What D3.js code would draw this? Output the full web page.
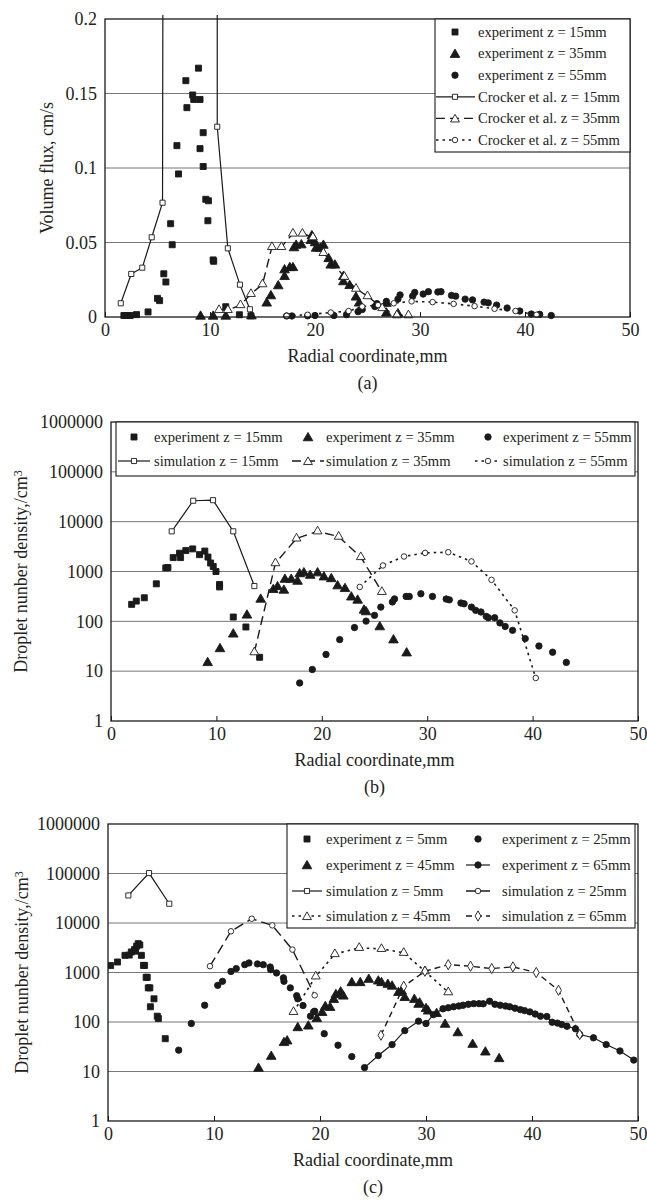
<!DOCTYPE html>
<html>
<head>
<meta charset="utf-8">
<script src="https://cdn.jsdelivr.net/npm/d3@7"></script>
<style>
body { margin: 0; background: #fff; }
svg text { font-family: "Liberation Serif", "Times New Roman", serif; fill: #222; }
</style>
</head>
<body>
<svg id="fig" width="647" height="1200"></svg>
<script>
// ---- axis values / labels
var xTicks = [0, 10, 20, 30, 40, 50];
var fluxTicks = [0, 0.05, 0.1, 0.15, 0.2];
var fluxGrid = [0.05, 0.1, 0.15];
var densityTicks = [1, 10, 100, 1000, 10000, 100000, 1000000];
var densityGrid = [10, 100, 1000, 10000, 100000];
var xTitle = "Radial coordinate,mm";
var fluxTitle = "Volume flux, cm/s";
var densityTitle = "Droplet nunber density,/cm";
var captions = ["(a)", "(b)", "(c)"];

var legendA = ["experiment z = 15mm", "experiment z = 35mm", "experiment z = 55mm",
  "Crocker et al. z = 15mm", "Crocker et al. z = 35mm", "Crocker et al. z = 55mm"];
var legendB = ["experiment z = 15mm", "experiment z = 35mm", "experiment z = 55mm",
  "simulation z = 15mm", "simulation z = 35mm", "simulation z = 55mm"];
var legendC = ["experiment z = 5mm", "experiment z = 25mm", "experiment z = 45mm", "experiment z = 65mm",
  "simulation z = 5mm", "simulation z = 25mm", "simulation z = 45mm", "simulation z = 65mm"];

// ---- (a) volume flux, [radial mm, cm/s]
var aExp15 = [[1.8,0.001],[2.1,0.001],[2.4,0.001],[3.0,0.0016],[4.1,0.0034],[5.0,0.0125],[5.2,0.011],
  [5.6,0.029],[5.8,0.0235],[6.25,0.0626],[6.4,0.0485],[6.85,0.115],[7.0,0.096],[7.7,0.1586],[7.8,0.1405],
  [8.35,0.149],[8.45,0.146],[8.9,0.167],[9.05,0.146],[9.05,0.113],[9.35,0.1237],[9.35,0.101],[9.6,0.079],
  [9.85,0.078],[9.8,0.0646],[10.3,0.0383],[10.35,0.0374],[11.5,0.0069],[12.8,0.0015],[13.9,0.0008]];
var aExp35 = [[9.1,0.0004],[10.3,0.0004],[11.5,0.0004],[13.95,0.0006],[15.4,0.0092],[15.8,0.0141],
  [16.5,0.0208],[17.1,0.027],[17.1,0.0315],[17.6,0.033],[17.9,0.033],[18.0,0.0463],[18.2,0.048],
  [18.7,0.0483],[19.6,0.0512],[19.7,0.0544],[20.0,0.0497],[20.1,0.046],[20.5,0.046],[20.8,0.048],
  [21.3,0.039],[21.5,0.0347],[21.9,0.0347],[22.7,0.027],[22.7,0.0235],[23.3,0.021],[23.9,0.0132],
  [24.2,0.0092],[26.8,0.009],[26.8,0.0025],[27.9,0.002]];
var aExp55 = [[17.3,0.0007],[17.8,0.0007],[19.3,0.0008],[20.0,0.001],[21.8,0.001],[23.0,0.0016],
  [24.1,0.0036],[24.5,0.005],[25.7,0.007],[25.9,0.009],[26.8,0.0105],[27.9,0.012],[28.1,0.0148],
  [29.3,0.014],[29.5,0.0165],[30.3,0.0154],[30.8,0.017],[31.7,0.0168],[32.0,0.017],[33.0,0.0145],
  [33.4,0.014],[34.3,0.012],[35.0,0.0115],[36.1,0.010],[36.5,0.0095],[37.3,0.008],[38.3,0.006],
  [39.5,0.004],[40.6,0.002],[41.4,0.0018],[42.5,0.001]];
var aCro15 = [[1.5,0.0092],[2.5,0.0289],[3.55,0.0331],[4.45,0.0535],[5.48,0.0767],[5.6,0.6],
  [8.1,0.9],[10.69,0.6],[10.69,0.1277],[11.7,0.0461],[12.85,0.0217],[13.8,0.0052]];
var aCro35 = [[10.86,0.0047],[11.7,0.0047],[12.9,0.008],[13.9,0.0155],[15.0,0.022],[15.9,0.047],
  [16.8,0.047],[17.9,0.056],[18.8,0.056],[19.8,0.0535],[20.8,0.043],[22.8,0.027],[23.9,0.019],
  [25.0,0.014],[26.4,0.006],[27.8,0.0012],[28.9,0.0012]];
var aCro55 = [[17.3,0.0008],[19.3,0.0015],[21.5,0.003],[23.2,0.004],[24.5,0.007],[26.0,0.008],
  [27.5,0.0092],[29.2,0.0105],[31.2,0.010],[33.2,0.0088],[35.2,0.0073],[37.1,0.0055],[39.1,0.004],
  [41.1,0.0015]];

// ---- (b) droplet number density, [radial mm, /cm3]
var bExp15 = [[1.96,219],[2.4,255],[3.16,297],[4.3,566],[5.2,1180],[5.4,1200],[5.9,1900],[6.5,2330],
  [6.6,1900],[7.1,2630],[7.75,2840],[8.4,2180],[8.9,2570],[9.2,1950],[9.45,1480],[9.7,1260],[9.96,1000],
  [10.3,550],[10.3,490],[11.6,122],[12.8,77],[14.1,19]];
var bExp35 = [[9.17,14.7],[10.34,28],[11.6,55],[12.9,132],[14.2,275],[15.4,430],[15.8,490],[16.4,417],
  [16.5,690],[17.1,690],[17.7,630],[17.9,890],[18.3,930],[18.9,830],[19.6,930],[20.2,770],[20.9,710],
  [21.5,510],[22.2,450],[22.8,305],[23.4,263],[24.0,166],[24.2,154],[25.5,77],[26.8,42],[28.05,23]];
var bExp55 = [[17.9,5.8],[19.1,10.8],[20.4,21.6],[21.7,43],[23.1,75],[24.2,101],[25.0,132],[25.6,193],
  [26.7,245],[26.9,282],[28.0,316],[28.3,316],[29.4,357],[30.5,316],[31.8,280],[32.1,270],[33.2,233],
  [33.5,225],[34.2,193],[34.6,166],[35.1,154],[35.6,126],[35.8,118],[36.4,118],[36.9,93],[37.4,79],
  [38.1,66],[39.3,45],[40.6,32],[41.9,24],[43.2,15]];
var bSim15 = [[5.76,6400],[7.8,26300],[9.68,27000],[11.6,6400],[13.6,510]];
var bSim35 = [[13.6,24],[15.6,1470],[17.6,4600],[19.6,6400],[21.6,5000],[23.7,1950],[25.7,390]];
var bSim55 = [[23.6,490],[25.8,1320],[27.8,2000],[29.8,2360],[32.0,2440],[34.2,1590],[36.1,680],
  [38.3,166],[40.3,7.3]];

// ---- (c) droplet number density, [radial mm, /cm3]
var cExp5 = [[0.25,1380],[0.9,1630],[1.6,2220],[2.0,2250],[2.2,2600],[2.5,2900],[2.6,2700],[2.7,3400],
  [2.85,3830],[3.0,3600],[3.15,2220],[3.35,1390],[3.45,1390],[3.6,800],[3.7,800],[3.8,490],[3.95,490],
  [4.0,203],[4.34,294],[4.65,131],[4.75,118],[5.4,46]];
var cExp25 = [[6.67,27],[7.86,93],[9.12,218],[10.35,550],[10.8,663],[11.6,1050],[12.1,1200],[12.9,1440],
  [13.3,1560],[14.1,1490],[14.65,1440],[15.3,1290],[15.35,1140],[15.9,980],[16.55,780],[16.6,665],
  [17.2,490],[17.8,340],[17.9,294],[18.4,215],[19.1,131],[19.4,160],[19.5,165],[20.4,58],[21.7,34],[23.0,20]];
var cExp45 = [[14.2,11.5],[15.4,20],[16.6,38],[16.9,41],[17.9,76],[18.9,82],[19.7,116],[20.2,154],
  [20.5,203],[20.95,195],[21.3,283],[21.5,355],[21.95,400],[22.2,330],[23.0,617],[23.8,617],[24.6,720],
  [25.5,665],[25.8,617],[26.4,570],[26.8,525],[27.4,390],[27.7,420],[28.0,309],[28.9,283],[29.3,225],
  [29.4,240],[30.0,185],[30.2,165],[31.0,147],[31.8,89],[33.0,60],[34.4,35],[35.6,24.5],[36.9,18]];
var cExp65 = [[24.2,12],[25.5,21],[26.8,35],[28.0,67],[29.3,104],[30.0,93],[30.7,141],[31.6,185],
  [32.1,194],[32.6,203],[33.1,210],[33.5,218],[34.0,228],[34.5,235],[35.0,235],[35.4,233],[36.0,263],
  [36.5,228],[37.0,218],[37.5,210],[37.9,203],[38.4,190],[38.9,178],[39.3,170],[39.8,160],[40.3,145],
  [40.8,131],[41.4,129],[41.9,99],[42.4,95],[42.8,89],[43.3,82],[44.1,73],[44.5,56],[45.8,48],
  [47.0,35],[48.3,26],[49.6,17]];
var cSim5 = [[1.92,36000],[3.87,102000],[5.78,24500]];
var cSim25 = [[9.62,1340],[11.6,6800],[13.56,12200],[15.5,8950],[17.4,2900],[19.5,346]];
var cSim45 = [[17.5,160],[19.6,835],[21.4,2360],[23.7,3150],[25.8,3000],[27.9,2500],[29.9,1060],[32.1,400]];
var cSim65 = [[25.75,54],[27.9,527],[29.9,1060],[32.1,1440],[34.2,1340],[36.2,1200],[38.2,1300],
  [40.4,1000],[42.5,437],[44.5,56]];

var svg = d3.select("#fig");
var ink = "#1a1a1a";

var symType = { square: d3.symbolSquare, triangle: d3.symbolTriangle, circle: d3.symbolCircle, diamond: d3.symbolDiamond };
var symSize = { square: 36, triangle: 40, circle: 32, diamond: 30 };
var openSize = { square: 26, triangle: 34, circle: 24, diamond: 30 };

function symPath(s) {
  var size = s.fill ? symSize[s.sym] : openSize[s.sym];
  return d3.symbol().type(symType[s.sym]).size(size)();
}

function drawLegendSample(g, s, cx, x1, x2, cy) {
  if (s.line) {
    g.append("line").attr("x1", x1).attr("x2", x2).attr("y1", cy).attr("y2", cy)
      .attr("stroke", ink).attr("stroke-width", s.width || 1.2)
      .attr("stroke-dasharray", s.dash || null);
  }
  g.append("path").attr("d", symPath(s))
    .attr("transform", "translate(" + cx + "," + (cy + (s.sym == "triangle" ? 1 : 0)) + ")")
    .attr("fill", s.fill ? ink : "#fff").attr("stroke", ink).attr("stroke-width", 0.9);
}

function panel(p, idx) {
  var g = svg.append("g");
  var x = d3.scaleLinear().domain([0, 50]).range([p.left, p.right]);
  var y = p.log ? d3.scaleLog().domain([1, 1000000]).range([p.bottom, p.top])
                : d3.scaleLinear().domain([0, 0.2]).range([p.bottom, p.top]);

  g.selectAll("line.grid").data(p.grid).join("line")
    .attr("class", "grid")
    .attr("x1", p.left).attr("x2", p.right)
    .attr("y1", function(d) { return y(d); }).attr("y2", function(d) { return y(d); })
    .attr("stroke", "#777").attr("stroke-width", 1);

  var xAxis = g.append("g").attr("transform", "translate(0," + p.bottom + ")")
    .call(d3.axisBottom(x).tickValues(xTicks).tickSizeInner(-5).tickSizeOuter(0).tickPadding(6));
  xAxis.select(".domain").remove();
  xAxis.selectAll("line").attr("stroke", ink);
  xAxis.selectAll("text").style("font-size", "18px").attr("font-family", null).attr("fill", "#222");

  var yAxis = g.append("g").attr("transform", "translate(" + p.left + ",0)")
    .call(d3.axisLeft(y).tickValues(p.ticks).tickSize(0).tickPadding(8).tickFormat(function(d) { return String(d); }));
  yAxis.select(".domain").remove();
  yAxis.selectAll("text").style("font-size", "18px").attr("fill", "#222");

  var clipId = "clip" + idx;
  g.append("clipPath").attr("id", clipId).append("rect")
    .attr("x", p.left).attr("y", p.top - 4).attr("width", p.right - p.left + 4).attr("height", p.bottom - p.top + 8);

  var plot = g.append("g").attr("clip-path", "url(#" + clipId + ")");
  var line = d3.line().x(function(d) { return x(d[0]); }).y(function(d) { return y(d[1]); });

  p.series.forEach(function(s) {
    if (s.line) {
      plot.append("path").datum(s.data).attr("d", line)
        .attr("fill", "none").attr("stroke", ink).attr("stroke-width", s.width || 1.2)
        .attr("stroke-dasharray", s.dash || null);
    }
  });
  p.series.forEach(function(s) {
    plot.selectAll(null).data(s.data).join("path")
      .attr("d", symPath(s))
      .attr("transform", function(d) { return "translate(" + x(d[0]) + "," + y(d[1]) + ")"; })
      .attr("fill", s.fill ? ink : "#fff").attr("stroke", ink).attr("stroke-width", 0.9);
  });

  // frame
  g.append("rect").attr("x", p.left).attr("y", p.top)
    .attr("width", p.right - p.left).attr("height", p.bottom - p.top)
    .attr("fill", "none").attr("stroke", ink).attr("stroke-width", 1.3);

  // legend
  var L = p.legend;
  var lg = g.append("g");
  lg.append("rect").attr("x", L.x).attr("y", L.y).attr("width", L.w).attr("height", L.h)
    .attr("fill", "#fff").attr("stroke", ink).attr("stroke-width", 1.1);
  L.labels.forEach(function(label, i) {
    var col = L.cols[i % L.cols.length];
    var cy = L.rows[Math.floor(i / L.cols.length)];
    drawLegendSample(lg, p.series[L.order[i]], col.mx, col.lx1, col.lx2, cy);
    lg.append("text").attr("x", col.tx).attr("y", cy).attr("dy", "0.33em")
      .style("font-size", "14.6px").text(label);
  });

  // titles
  g.append("text").attr("x", (p.left + p.right) / 2).attr("y", p.bottom + 45)
    .attr("text-anchor", "middle").style("font-size", "18px").text(xTitle);
  g.append("text").attr("x", (p.left + p.right) / 2).attr("y", p.bottom + 72)
    .attr("text-anchor", "middle").style("font-size", "18px").text(captions[idx]);

  var yt = g.append("text")
    .attr("transform", "translate(" + p.yTitleX + "," + (p.top + p.bottom) / 2 + ") rotate(-90)")
    .attr("text-anchor", "middle").attr("dy", "0.35em").style("font-size", "18px");
  yt.append("tspan").text(p.yTitle);
  if (p.log) yt.append("tspan").attr("dy", "-0.45em").style("font-size", "12px").text("3");
}

var panels = [
  { left: 105, right: 630, top: 19, bottom: 317, log: false, ticks: fluxTicks, grid: fluxGrid,
    yTitle: fluxTitle, yTitleX: 47,
    series: [
      { data: aExp15, sym: "square", fill: true },
      { data: aExp35, sym: "triangle", fill: true },
      { data: aExp55, sym: "circle", fill: true },
      { data: aCro15, sym: "square", fill: false, line: true, width: 1.2 },
      { data: aCro35, sym: "triangle", fill: false, line: true, dash: "9,5", width: 1.4 },
      { data: aCro55, sym: "circle", fill: false, line: true, dash: "2.5,4", width: 1.6 }
    ],
    legend: { x: 435, y: 19, w: 195, h: 133, labels: legendA, order: [0, 1, 2, 3, 4, 5],
      cols: [{ mx: 455, lx1: 436, lx2: 475, tx: 478 }],
      rows: [32, 53.6, 75.2, 96.8, 118.4, 140] } },
  { left: 111, right: 638, top: 422, bottom: 721, log: true, ticks: densityTicks, grid: densityGrid,
    yTitle: densityTitle, yTitleX: 21,
    series: [
      { data: bExp15, sym: "square", fill: true },
      { data: bExp35, sym: "triangle", fill: true },
      { data: bExp55, sym: "circle", fill: true },
      { data: bSim15, sym: "square", fill: false, line: true, width: 1.2 },
      { data: bSim35, sym: "triangle", fill: false, line: true, dash: "9,5", width: 1.4 },
      { data: bSim55, sym: "circle", fill: false, line: true, dash: "2.5,4", width: 1.6 }
    ],
    legend: { x: 116, y: 422, w: 519, h: 54, labels: legendB, order: [0, 1, 2, 3, 4, 5],
      cols: [{ mx: 134, lx1: 118, lx2: 150, tx: 154 }, { mx: 308, lx1: 292, lx2: 324, tx: 326 },
             { mx: 488, lx1: 475, lx2: 500, tx: 503 }],
      rows: [437, 461] } },
  { left: 108, right: 638, top: 824, bottom: 1121, log: true, ticks: densityTicks, grid: densityGrid,
    yTitle: densityTitle, yTitleX: 22,
    series: [
      { data: cExp5, sym: "square", fill: true },
      { data: cExp25, sym: "circle", fill: true },
      { data: cExp45, sym: "triangle", fill: true },
      { data: cExp65, sym: "circle", fill: true, line: true, width: 1.2 },
      { data: cSim5, sym: "square", fill: false, line: true, width: 1.2 },
      { data: cSim25, sym: "circle", fill: false, line: true, dash: "10,5", width: 1.4 },
      { data: cSim45, sym: "triangle", fill: false, line: true, dash: "2.5,4", width: 1.6 },
      { data: cSim65, sym: "diamond", fill: false, line: true, dash: "6,4", width: 1.4 }
    ],
    legend: { x: 287, y: 824, w: 348, h: 104, labels: legendC, order: [0, 1, 2, 3, 4, 5, 6, 7],
      cols: [{ mx: 307, lx1: 292, lx2: 322, tx: 326 }, { mx: 478, lx1: 466, lx2: 490, tx: 502 }],
      rows: [839, 865, 891, 916] } }
];

panels.forEach(panel);
</script>
</body>
</html>
